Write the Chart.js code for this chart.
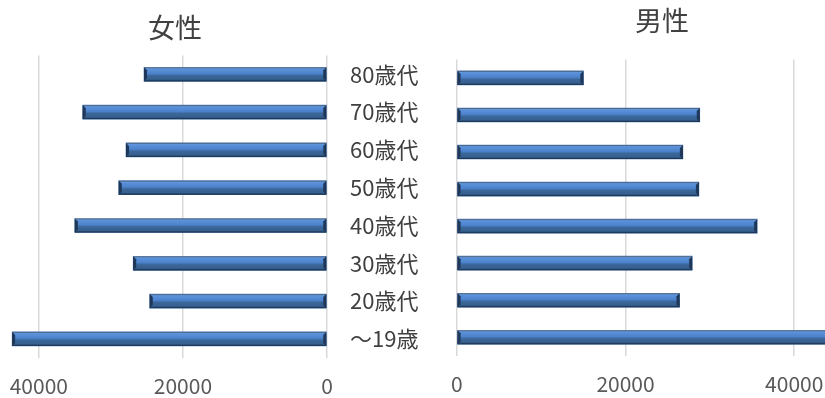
<!DOCTYPE html>
<html>
<head>
<meta charset="utf-8">
<script src="https://cdn.jsdelivr.net/npm/chart.js@4"></script>
<style>
  html, body { margin: 0; padding: 0; background: #fff; overflow: hidden; }
  #wrap { position: relative; width: 825px; height: 398px; }
  #femaleBox { position: absolute; left: 0; top: 0; width: 440px; height: 398px; }
  #maleBox { position: absolute; left: 435px; top: 0; width: 403px; height: 398px; }
</style>
</head>
<body>
<div id="wrap">
  <div id="femaleBox"><canvas id="femaleChart"></canvas></div>
  <div id="maleBox"><canvas id="maleChart"></canvas></div>
</div>
<script>
// age groups, top to bottom
const ageGroups = ['80歳代', '70歳代', '60歳代', '50歳代', '40歳代', '30歳代', '20歳代', '～19歳'];
const femaleValues = [25400, 33900, 27900, 28900, 35000, 26900, 24600, 43700];
const maleValues = [15000, 28800, 26800, 28700, 35600, 27900, 26400, 45000];
const tickValues = [0, 20000, 40000];
const axisMax = 44000;

const FONT = '"Noto Sans CJK JP", "Noto Sans", sans-serif';

// draw the bars with a bevel-like vertical gradient
const bevelPlugin = {
    id: 'bevel',
    afterLayout(chart, args, opts) {
        // nudge the title sideways, the original isn't centred on the canvas
        if (chart.titleBlock && opts.titleShift) {
            chart.titleBlock.left += opts.titleShift;
            chart.titleBlock.right += opts.titleShift;
        }
    },
    afterDatasetsDraw(chart) {
        const ctx = chart.ctx;
        const area = chart.chartArea;
        ctx.save();
        ctx.beginPath();
        ctx.rect(area.left, area.top, area.right - area.left, area.bottom - area.top);
        ctx.clip();
        chart.getDatasetMeta(0).data.forEach(el => {
            const p = el.getProps(['x', 'y', 'base', 'height'], true);
            const x0 = Math.min(p.x, p.base), x1 = Math.max(p.x, p.base);
            const y0 = p.y - p.height / 2, y1 = p.y + p.height / 2;
            const g = ctx.createLinearGradient(0, y0, 0, y1);
            g.addColorStop(0, '#b4c7e0');
            g.addColorStop(0.1, '#5d94dc');
            g.addColorStop(0.45, '#4b82cb');
            g.addColorStop(0.6, '#3b6699');
            g.addColorStop(0.85, '#36608f');
            g.addColorStop(1, '#1e3656');
            ctx.fillStyle = g;
            ctx.fillRect(x0, y0, x1 - x0, y1 - y0);
            // dark bevelled ends
            ctx.fillStyle = '#20395a';
            const e = 3;
            ctx.beginPath();
            ctx.moveTo(x0, y0); ctx.lineTo(x0 + e, y0 + e); ctx.lineTo(x0 + e, y1 - e); ctx.lineTo(x0, y1); ctx.closePath();
            ctx.fill();
            ctx.beginPath();
            ctx.moveTo(x1, y0); ctx.lineTo(x1 - e, y0 + e); ctx.lineTo(x1 - e, y1 - e); ctx.lineTo(x1, y1); ctx.closePath();
            ctx.fill();
            ctx.strokeStyle = 'rgba(30,50,80,0.6)';
            ctx.lineWidth = 1;
            ctx.strokeRect(x0 + 0.5, y0 + 0.5, x1 - x0 - 1, y1 - y0 - 1);
        });
        ctx.restore();
    }
};

function createPyramidSide(canvasId, title, values, isLeft) {
    const ctx = document.getElementById(canvasId).getContext('2d');
    return new Chart(ctx, {
        type: 'bar',
        data: {
            labels: ageGroups,
            datasets: [{
                data: values,
                backgroundColor: '#4a7ebb',
                barThickness: 14
            }]
        },
        options: {
            indexAxis: 'y',
            responsive: true,
            maintainAspectRatio: false,
            animation: false,
            layout: {
                padding: isLeft
                    ? { left: 10, right: 0, top: 0, bottom: -17 }
                    : { left: 7, right: 0, top: 0, bottom: -15 }
            },
            plugins: {
                legend: { display: false },
                tooltip: { enabled: false },
                bevel: { titleShift: isLeft ? -50 : 22 },
                title: {
                    display: true,
                    text: title,
                    color: '#404040',
                    font: { family: FONT, size: 27, weight: 'normal' },
                    padding: isLeft ? { top: 12, bottom: 11 } : { top: 5, bottom: 22 }
                }
            },
            scales: {
                x: {
                    reverse: isLeft,
                    min: 0,
                    max: axisMax,
                    border: { display: false },
                    grid: { color: '#d9d9d9', lineWidth: 1.5, drawTicks: false },
                    afterBuildTicks: scale => { scale.ticks = tickValues.map(v => ({ value: v })); },
                    ticks: {
                        color: '#595959',
                        padding: 16,
                        maxRotation: 0,
                        autoSkip: false,
                        callback: v => String(v),
                        font: { family: FONT, size: 21 }
                    }
                },
                y: {
                    display: isLeft,
                    position: 'right',
                    border: { display: false },
                    grid: { display: false, drawTicks: false },
                    afterFit: scale => { if (isLeft) scale.width = 113; },
                    ticks: {
                        color: '#404040',
                        padding: 23,
                        font: { family: FONT, size: 22 }
                    }
                }
            }
        },
        plugins: [bevelPlugin]
    });
}

const femaleChart = createPyramidSide('femaleChart', '女性', femaleValues, true);
const maleChart = createPyramidSide('maleChart', '男性', maleValues, false);
</script>
</body>
</html>
